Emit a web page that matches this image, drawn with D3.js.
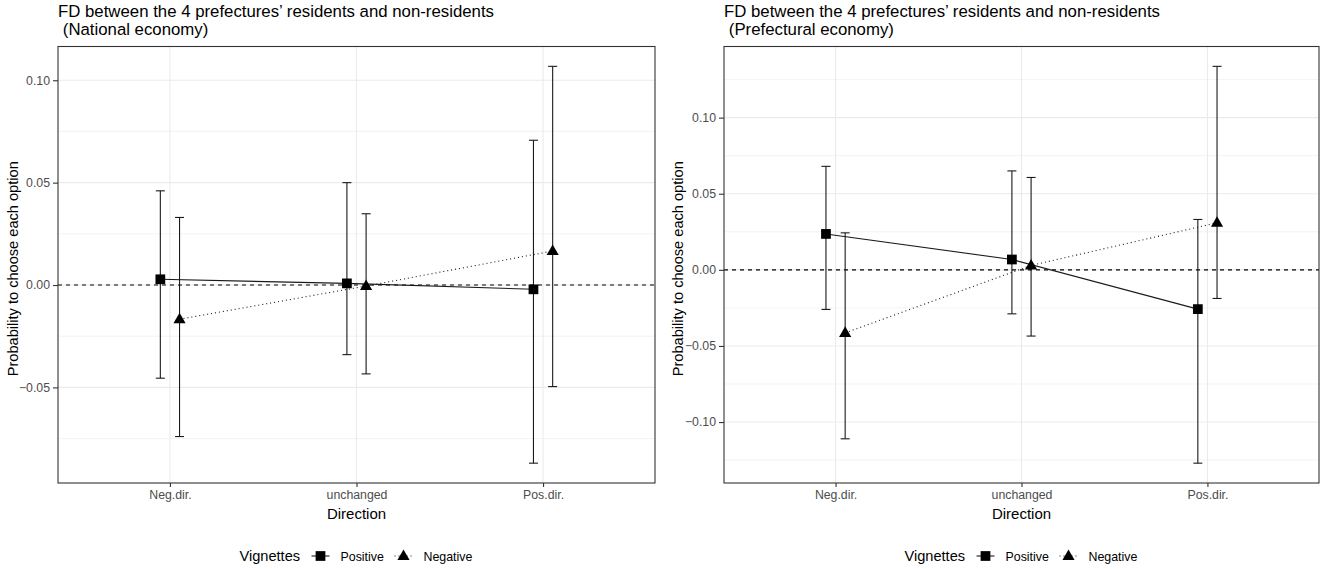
<!DOCTYPE html>
<html lang="en">
<head>
    <meta charset="UTF-8">
    <title>FD between residents and non-residents</title>
    <script src="https://d3js.org/d3.v7.min.js"></script>
    <style>
        body { margin: 0; background: #fff; }
        svg { display: block; font-family: "Liberation Sans", Arial, sans-serif; }
        .grid line { stroke: #ebebeb; }
        .tick-label { fill: #4d4d4d; font-size: 12.3px; }
    </style>
</head>
<body>
<svg width="1325" height="569"></svg>
<script>
    const directions = ["Neg.dir.", "unchanged", "Pos.dir."];
    const vignettes = ["Positive", "Negative"];

    // National economy panel
    const natPos = [0.0028, 0.0008, -0.0021];
    const natPosLo = [-0.0455, -0.034, -0.087];
    const natPosHi = [0.046, 0.050, 0.0707];
    const natNeg = [-0.0167, -0.0005, 0.0166];
    const natNegLo = [-0.074, -0.0434, -0.0496];
    const natNegHi = [0.033, 0.0348, 0.1068];

    // Prefectural economy panel
    const prefPos = [0.0236, 0.0068, -0.0258];
    const prefPosLo = [-0.026, -0.0289, -0.127];
    const prefPosHi = [0.068, 0.065, 0.0331];
    const prefNeg = [-0.0414, 0.0029, 0.0309];
    const prefNegLo = [-0.111, -0.0435, -0.0188];
    const prefNegHi = [0.0243, 0.0607, 0.1337];

    const titleLine1 = "FD between the 4 prefectures\u2019 residents and non-residents";

    function rows(est, lo, hi) {
        return directions.map((d, i) => ({dir: d, est: est[i], lo: lo[i], hi: hi[i]}));
    }

    const panels = [
        {sub: "(National economy)", x0: 58, x1: 655, yTitleX: 12.5,
         series: [rows(natPos, natPosLo, natPosHi), rows(natNeg, natNegLo, natNegHi)]},
        {sub: "(Prefectural economy)", x0: 724, x1: 1319, yTitleX: 678,
         series: [rows(prefPos, prefPosLo, prefPosHi), rows(prefNeg, prefNegLo, prefNegHi)]}
    ];

    const svg = d3.select("svg");
    const panelTop = 46.5, panelBottom = 483;

    panels.forEach(p => {
        const g = svg.append("g");
        const x = d3.scalePoint().domain(directions).range([p.x0, p.x1]).padding(0.6);
        const all = p.series.flat();
        const lo = d3.min(all, d => d.lo), hi = d3.max(all, d => d.hi);
        const pad = (hi - lo) * 0.05;
        const y = d3.scaleLinear().domain([lo - pad, hi + pad]).range([panelBottom, panelTop]);
        const dodge = [-9.6, 9.6];

        // grid
        const grid = g.append("g").attr("class", "grid");
        const major = y.ticks(5);
        const step = major[1] - major[0];
        const minor = d3.range(major[0] - step / 2, y.domain()[1], step).filter(v => v > y.domain()[0]);
        grid.selectAll(".minor").data(minor).join("line").attr("class", "minor")
            .attr("x1", p.x0).attr("x2", p.x1).attr("y1", d => y(d)).attr("y2", d => y(d))
            .attr("stroke-width", 0.6);
        grid.selectAll(".major").data(major).join("line").attr("class", "major")
            .attr("x1", p.x0).attr("x2", p.x1).attr("y1", d => y(d)).attr("y2", d => y(d))
            .attr("stroke-width", 1.1);
        grid.selectAll(".vmajor").data(directions).join("line").attr("class", "vmajor")
            .attr("x1", d => x(d)).attr("x2", d => x(d)).attr("y1", panelTop).attr("y2", panelBottom)
            .attr("stroke-width", 1.1);

        // zero reference
        g.append("line").attr("x1", p.x0).attr("x2", p.x1).attr("y1", y(0)).attr("y2", y(0))
            .attr("stroke", "#000").attr("stroke-width", 1.1).attr("stroke-dasharray", "4,4");

        // lines
        const dashes = [null, "1,3"];
        p.series.forEach((s, k) => {
            g.append("path").datum(s)
                .attr("d", d3.line().x(d => x(d.dir) + dodge[k]).y(d => y(d.est)))
                .attr("fill", "none").attr("stroke", "#1a1a1a").attr("stroke-width", 1.1)
                .attr("stroke-dasharray", dashes[k]);
        });

        // error bars
        p.series.forEach((s, k) => {
            const eb = g.append("g").attr("stroke", "#1a1a1a").attr("stroke-width", 1.1);
            eb.selectAll(".v").data(s).join("line")
                .attr("x1", d => x(d.dir) + dodge[k]).attr("x2", d => x(d.dir) + dodge[k])
                .attr("y1", d => y(d.lo)).attr("y2", d => y(d.hi));
            eb.selectAll(".cl").data(s).join("line")
                .attr("x1", d => x(d.dir) + dodge[k] - 4.5).attr("x2", d => x(d.dir) + dodge[k] + 4.5)
                .attr("y1", d => y(d.lo)).attr("y2", d => y(d.lo));
            eb.selectAll(".ch").data(s).join("line")
                .attr("x1", d => x(d.dir) + dodge[k] - 4.5).attr("x2", d => x(d.dir) + dodge[k] + 4.5)
                .attr("y1", d => y(d.hi)).attr("y2", d => y(d.hi));
        });

        // points
        const shapes = [d3.symbol(d3.symbolSquare, 95), d3.symbol(d3.symbolTriangle, 64)];
        p.series.forEach((s, k) => {
            g.selectAll(null).data(s).join("path")
                .attr("transform", d => `translate(${x(d.dir) + dodge[k]},${y(d.est) + (k ? 0.5 : 0)})`)
                .attr("d", shapes[k]).attr("fill", "#000");
        });

        // panel border
        g.append("rect").attr("x", p.x0).attr("y", panelTop).attr("width", p.x1 - p.x0).attr("height", panelBottom - panelTop)
            .attr("fill", "none").attr("stroke", "#333").attr("stroke-width", 1.1);

        // y axis
        const yAxis = g.append("g").attr("transform", `translate(${p.x0},0)`)
            .call(d3.axisLeft(y).tickValues(major).tickFormat(d3.format(".2f")).tickSize(5).tickPadding(3));
        yAxis.select(".domain").remove();
        yAxis.selectAll(".tick line").attr("stroke", "#333").attr("stroke-width", 1.1);
        yAxis.selectAll(".tick text").attr("class", "tick-label").attr("font-size", null).attr("font-family", null);

        // x axis
        const xAxis = g.append("g").attr("transform", `translate(0,${panelBottom})`)
            .call(d3.axisBottom(x).tickSize(4).tickPadding(3));
        xAxis.select(".domain").remove();
        xAxis.selectAll(".tick line").attr("stroke", "#333").attr("stroke-width", 1.1);
        xAxis.selectAll(".tick text").attr("class", "tick-label").attr("font-size", null).attr("font-family", null);

        // titles
        g.append("text").attr("x", p.x0).attr("y", 16.7).attr("font-size", 16.8).attr("fill", "#000")
            .text(titleLine1);
        g.append("text").attr("x", p.x0 + 4.8).attr("y", 35).attr("font-size", 16.8).attr("fill", "#000")
            .text(p.sub);
        g.append("text").attr("x", (p.x0 + p.x1) / 2).attr("y", 518.5).attr("text-anchor", "middle")
            .attr("font-size", 15).attr("fill", "#000").text("Direction");
        g.append("text").attr("transform", `translate(${p.yTitleX + 5},${(panelTop + panelBottom) / 2 + 4}) rotate(-90)`)
            .attr("text-anchor", "middle").attr("font-size", 14.6).attr("fill", "#000")
            .text("Probability to choose each option");

        // legend
        const cx = (p.x0 + p.x1) / 2;
        const lg = g.append("g").attr("transform", `translate(${cx - 117},556)`);
        lg.append("text").attr("x", 0).attr("y", 5.3).attr("font-size", 14.6).text("Vignettes");
        const keyX = [72, 155], labX = [101, 184];
        vignettes.forEach((v, k) => {
            lg.append("line").attr("x1", keyX[k]).attr("x2", keyX[k] + 18).attr("y1", 0).attr("y2", 0)
                .attr("stroke", "#1a1a1a").attr("stroke-width", 1.1).attr("stroke-dasharray", dashes[k]);
            lg.append("path").attr("transform", `translate(${keyX[k] + 9},${k ? 0.5 : 0})`)
                .attr("d", shapes[k]).attr("fill", "#000");
            lg.append("text").attr("x", labX[k]).attr("y", 4.5).attr("font-size", 12.4).attr("fill", "#000").text(v);
        });
    });
</script>
</body>
</html>
